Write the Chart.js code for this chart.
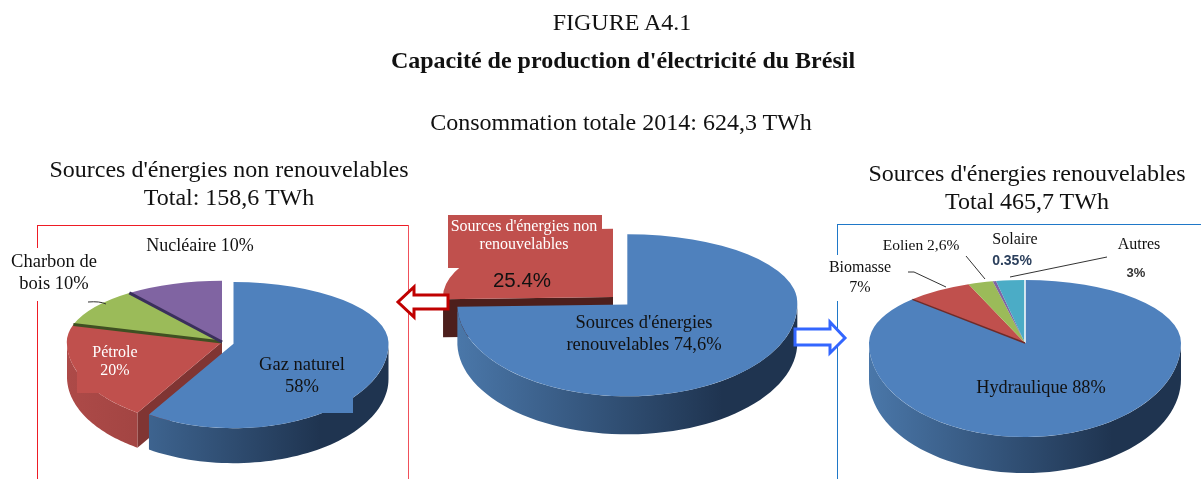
<!DOCTYPE html>
<html lang="fr">
<head>
<meta charset="utf-8">
<title>Capacité de production d'électricité du Brésil</title>
<script src="https://cdn.jsdelivr.net/npm/chart.js@4"></script>
<style>
    html, body { margin: 0; padding: 0; background: #fff; }
    body { position: relative; width: 1201px; height: 479px; overflow: hidden; font-family: "Liberation Serif", serif; color: #111; }
    canvas { position: absolute; }
    svg { position: absolute; left: 0; top: 0; }
    .t { position: absolute; transform: translate(-50%, -50%); text-align: center; white-space: nowrap; }
    .box { position: absolute; }
    .line { position: absolute; }
</style>
</head>
<body>
<!-- frames, behind the pies -->
<div class="line" style="left:37px;top:225px;width:371px;height:1px;background:#ee1c25"></div>
<div class="line" style="left:37px;top:225px;width:1px;height:23px;background:#ee1c25"></div>
<div class="line" style="left:37px;top:301px;width:1px;height:178px;background:#ee1c25"></div>
<div class="line" style="left:408px;top:225px;width:1px;height:254px;background:#f0505a"></div>
<div class="line" style="left:837px;top:224px;width:364px;height:1px;background:#1f78c8"></div>
<div class="line" style="left:837px;top:224px;width:1px;height:31px;background:#1f78c8"></div>
<div class="line" style="left:837px;top:301px;width:1px;height:178px;background:#1f78c8"></div>

<canvas id="pieNonRenew" width="370" height="370" style="left:37px;top:157px"></canvas>
<canvas id="pieTotal" width="400" height="400" style="left:413px;top:97px"></canvas>
<canvas id="pieRenew" width="372" height="372" style="left:839px;top:157px"></canvas>

<!-- label patches, same as the boxes in the original figure -->
<div class="box" style="left:448px;top:215px;width:154px;height:53px;background:#c0504d"></div>
<div class="box" style="left:250px;top:350px;width:103px;height:63px;background:#4f81bd"></div>
<div class="box" style="left:77px;top:345px;width:70px;height:48px;background:#c0504d"></div>

<svg width="1201" height="479">
    <path d="M448 295 H414 V287 L398 302 L414 317 V309 H448 Z" fill="#fff" stroke="#c00000" stroke-width="3"/>
    <path d="M795 329 H830 V322 L845 338 L830 353 V345 H795 Z" fill="#fff" stroke="#3366ff" stroke-width="3"/>
    <g fill="none" stroke="#333" stroke-width="1">
        <path d="M88 302 Q100 301 106 304"/>
        <path d="M908 272 H914 L946 287"/>
        <path d="M966 256 L985 279"/>
        <path d="M1107 257 L1010 277"/>
    </g>
</svg>

<div class="t" style="left:622px;top:22px;font-size:24px">FIGURE A4.1</div>
<div class="t" style="left:623px;top:60px;font-size:24px;font-weight:bold">Capacité de production d'électricité du Brésil</div>
<div class="t" style="left:621px;top:122px;font-size:24px">Consommation totale 2014: 624,3 TWh</div>
<div class="t" style="left:229px;top:183px;font-size:24px;line-height:28px">Sources d'énergies non renouvelables<br>Total: 158,6 TWh</div>
<div class="t" style="left:1027px;top:187px;font-size:24px;line-height:28px">Sources d'énergies renouvelables<br>Total 465,7 TWh</div>

<div class="t" style="left:200px;top:245px;font-size:18px">Nucléaire 10%</div>
<div class="t" style="left:54px;top:272px;font-size:18.5px;line-height:22px">Charbon de<br>bois 10%</div>
<div class="t" style="left:302px;top:375px;font-size:18.5px;line-height:22px">Gaz naturel<br>58%</div>
<div class="t" style="left:115px;top:361px;font-size:16px;line-height:18px;color:#fff">Pétrole<br>20%</div>

<div class="t" style="left:524px;top:235px;font-size:16px;line-height:18px;color:#fff">Sources d'énergies non<br>renouvelables</div>
<div class="t" style="left:522px;top:280px;font-size:20.5px;font-family:'Liberation Sans',sans-serif">25.4%</div>
<div class="t" style="left:644px;top:333px;font-size:18.5px;line-height:22px">Sources d'énergies<br>renouvelables 74,6%</div>

<div class="t" style="left:860px;top:277px;font-size:16px;line-height:20px">Biomasse<br>7%</div>
<div class="t" style="left:921px;top:245px;font-size:15.5px">Eolien 2,6%</div>
<div class="t" style="left:1015px;top:239px;font-size:16px">Solaire</div>
<div class="t" style="left:1012px;top:260px;font-size:14px;font-weight:bold;font-family:'Liberation Sans',sans-serif;color:#2b3f5c">0.35%</div>
<div class="t" style="left:1139px;top:244px;font-size:16px">Autres</div>
<div class="t" style="left:1136px;top:272px;font-size:13px;font-weight:bold;font-family:'Liberation Sans',sans-serif;color:#333">3%</div>
<div class="t" style="left:1041px;top:387px;font-size:18.3px">Hydraulique 88%</div>

<script>
    const nonRenewLabels = ["Gaz naturel", "Pétrole", "Charbon de bois", "Nucléaire"];
    const nonRenewValues = [58, 20, 10, 10];

    const totalLabels = ["Sources d'énergies renouvelables", "Sources d'énergies non renouvelables"];
    const totalValues = [74.6, 25.4];

    const renewLabels = ["Hydraulique", "Biomasse", "Eolien", "Solaire", "Autres"];
    const renewValues = [88, 7, 2.6, 0.35, 3];

    const BLUE = "#4f81bd", RED = "#c0504d", GREEN = "#9bbb59", PURPLE = "#8064a2", TEAL = "#4bacc6";
    const BLUE_WALL = ["#4a77a9", "#1f3450"];
    const RED_WALL = ["#ad4a48", "#8a3836"];

    // Chart.js only draws round pies, so the plugin squashes the canvas: the top half
    // is flattened more than the bottom half to get the perspective of the original.
    // The built-in offset option also grows the slice, so exploded slices are moved here
    function pie3d(view) {
        const squash = (y, cy) => cy + (y - cy) * (y < cy ? view.kTop : view.kBottom);
        const shiftOf = i => (view.shifts && view.shifts[i]) || 0;

        function centre(el, i) {
            const mid = (el.startAngle + el.endAngle) / 2;
            return [el.x + Math.cos(mid) * shiftOf(i), el.y + Math.sin(mid) * shiftOf(i)];
        }

        function rimPoint(el, i, angle) {
            const c = centre(el, i);
            return [c[0] + Math.cos(angle) * el.outerRadius, squash(c[1] + Math.sin(angle) * el.outerRadius, el.y)];
        }

        function apexPoint(el, i) {
            const c = centre(el, i);
            return [c[0], squash(c[1], el.y)];
        }

        function drawWalls(ctx, el, i) {
            const radial = view.radial && view.radial[i];
            if (radial) {
                const a = apexPoint(el, i), b = rimPoint(el, i, el.startAngle);
                ctx.fillStyle = radial;
                ctx.beginPath();
                ctx.moveTo(a[0], a[1]);
                ctx.lineTo(b[0], b[1]);
                ctx.lineTo(b[0], b[1] + view.depth);
                ctx.lineTo(a[0], a[1] + view.depth);
                ctx.closePath();
                ctx.fill();
            }
            const wall = view.walls && view.walls[i];
            const from = Math.max(el.startAngle, 0), to = Math.min(el.endAngle, Math.PI);
            if (!wall || to <= from) return;

            const pts = [];
            for (let s = 0; s <= 60; s++) pts.push(rimPoint(el, i, from + (to - from) * s / 60));
            const left = apexPoint(el, i)[0] - el.outerRadius;
            const grad = ctx.createLinearGradient(left, 0, left + el.outerRadius * 2, 0);
            grad.addColorStop(0, wall[0]);
            grad.addColorStop(0.78, wall[1]);
            grad.addColorStop(1, wall[1]);
            ctx.fillStyle = grad;
            ctx.beginPath();
            pts.forEach((p, n) => n ? ctx.lineTo(p[0], p[1]) : ctx.moveTo(p[0], p[1]));
            pts.slice().reverse().forEach(p => ctx.lineTo(p[0], p[1] + view.depth));
            ctx.closePath();
            ctx.fill();
        }

        function drawHalf(chart, meta, top, k) {
            const ctx = chart.ctx, cy = meta.data[0].y;
            ctx.save();
            ctx.beginPath();
            ctx.rect(0, top, chart.width, top ? chart.height - top : cy);
            ctx.clip();
            ctx.translate(0, cy);
            ctx.scale(1, k);
            ctx.translate(0, -cy);
            meta.data.forEach((el, i) => {
                const c = centre(el, i);
                ctx.save();
                ctx.translate(c[0] - el.x, c[1] - el.y);
                el.draw(ctx);
                ctx.restore();
            });
            ctx.restore();
        }

        return {
            id: "pie3d",
            beforeDatasetsDraw(chart) {
                const ctx = chart.ctx, meta = chart.getDatasetMeta(0);
                for (let i = meta.data.length - 1; i >= 0; i--) drawWalls(ctx, meta.data[i], i);
                drawHalf(chart, meta, 0, view.kTop);
                drawHalf(chart, meta, meta.data[0].y, view.kBottom);

                meta.data.forEach((el, i) => {
                    const seam = view.seams && view.seams[i];
                    if (!seam) return;
                    const a = apexPoint(el, i), b = rimPoint(el, i, el.startAngle);
                    ctx.strokeStyle = seam[0];
                    ctx.lineWidth = seam[1];
                    ctx.beginPath();
                    ctx.moveTo(a[0], a[1]);
                    ctx.lineTo(b[0], b[1]);
                    ctx.stroke();
                });
                return false;
            }
        };
    }

    function makePie(id, labels, values, colors, view) {
        new Chart(document.getElementById(id), {
            type: "pie",
            plugins: [pie3d(view)],
            data: {
                labels: labels,
                datasets: [{ data: values, backgroundColor: colors, borderWidth: 0, clip: false }]
            },
            options: {
                responsive: false,
                animation: false,
                layout: { padding: 30 },
                events: [],
                plugins: { legend: { display: false }, tooltip: { enabled: false } }
            }
        });
    }

    makePie("pieNonRenew", nonRenewLabels, nonRenewValues, [BLUE, RED, GREEN, PURPLE], {
        kTop: 0.395, kBottom: 0.544, depth: 35,
        shifts: [12, 0, 0, 0],
        walls: [BLUE_WALL, RED_WALL],
        radial: [null, "#803533"],
        seams: [null, null, ["#3f5022", 3], ["#3a2f5c", 3]]
    });

    makePie("pieTotal", totalLabels, totalValues, [BLUE, RED], {
        kTop: 0.402, kBottom: 0.54, depth: 38,
        shifts: [20, 0],
        walls: [BLUE_WALL, ["#4d1f1c", "#4d1f1c"]],
        radial: [null, "#4d1f1c"]
    });

    makePie("pieRenew", renewLabels, renewValues, [BLUE, RED, GREEN, PURPLE, TEAL], {
        kTop: 0.404, kBottom: 0.603, depth: 36,
        walls: [BLUE_WALL],
        seams: [["#ffffff", 1.5], ["#6e2b29", 1.5], null, null, null]
    });
</script>
</body>
</html>
